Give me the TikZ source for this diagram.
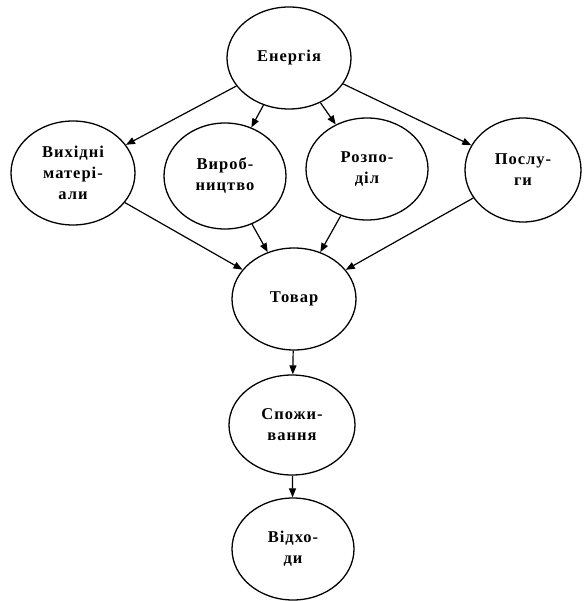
\documentclass[tikz,border=0pt]{standalone}
\usepackage{fontspec}
\setmainfont{Liberation Serif}[LetterSpace=6]
\usetikzlibrary{shapes.geometric,arrows.meta}
\begin{document}
\begin{tikzpicture}[x=1pt,y=-1pt,
  el/.style={draw,ellipse,line width=1.3pt,inner sep=0pt,align=center,
    font=\fontsize{16.5}{21}\selectfont\bfseries},
  arr/.style={line width=1.2pt,-{Triangle[length=9pt,width=7pt]}}]
\useasboundingbox (0,0) rectangle (587,601);
\node[el,minimum width=124pt,minimum height=102pt] (E) at (289,58) {Енергія};
\node[el,minimum width=124pt,minimum height=104pt] (V) at (73,173) {Вихідні\\матері-\\али};
\node[el,minimum width=122pt,minimum height=106pt] (P) at (225,176) {Вироб-\\ництво};
\node[el,minimum width=122pt,minimum height=102pt] (R) at (367,169) {Розпо-\\діл};
\node[el,minimum width=116pt,minimum height=104pt] (S) at (523,170) {Послу-\\ги};
\node[el,minimum width=124pt,minimum height=102pt] (T) at (294,299) {Товар};
\node[el,minimum width=126pt,minimum height=100pt] (C) at (292,425) {Спожи-\\вання};
\node[el,minimum width=122pt,minimum height=102pt] (W) at (293,549) {Відхо-\\ди};
\draw[arr] (E) -- (V);
\draw[arr] (E) -- (P);
\draw[arr] (E) -- (R);
\draw[arr] (E) -- (S);
\draw[arr] (V) -- (T);
\draw[arr] (P) -- (T);
\draw[arr] (R) -- (T);
\draw[arr] (S) -- (T);
\draw[arr] (T) -- (C);
\draw[arr] (C) -- (W);
\end{tikzpicture}
\end{document}
